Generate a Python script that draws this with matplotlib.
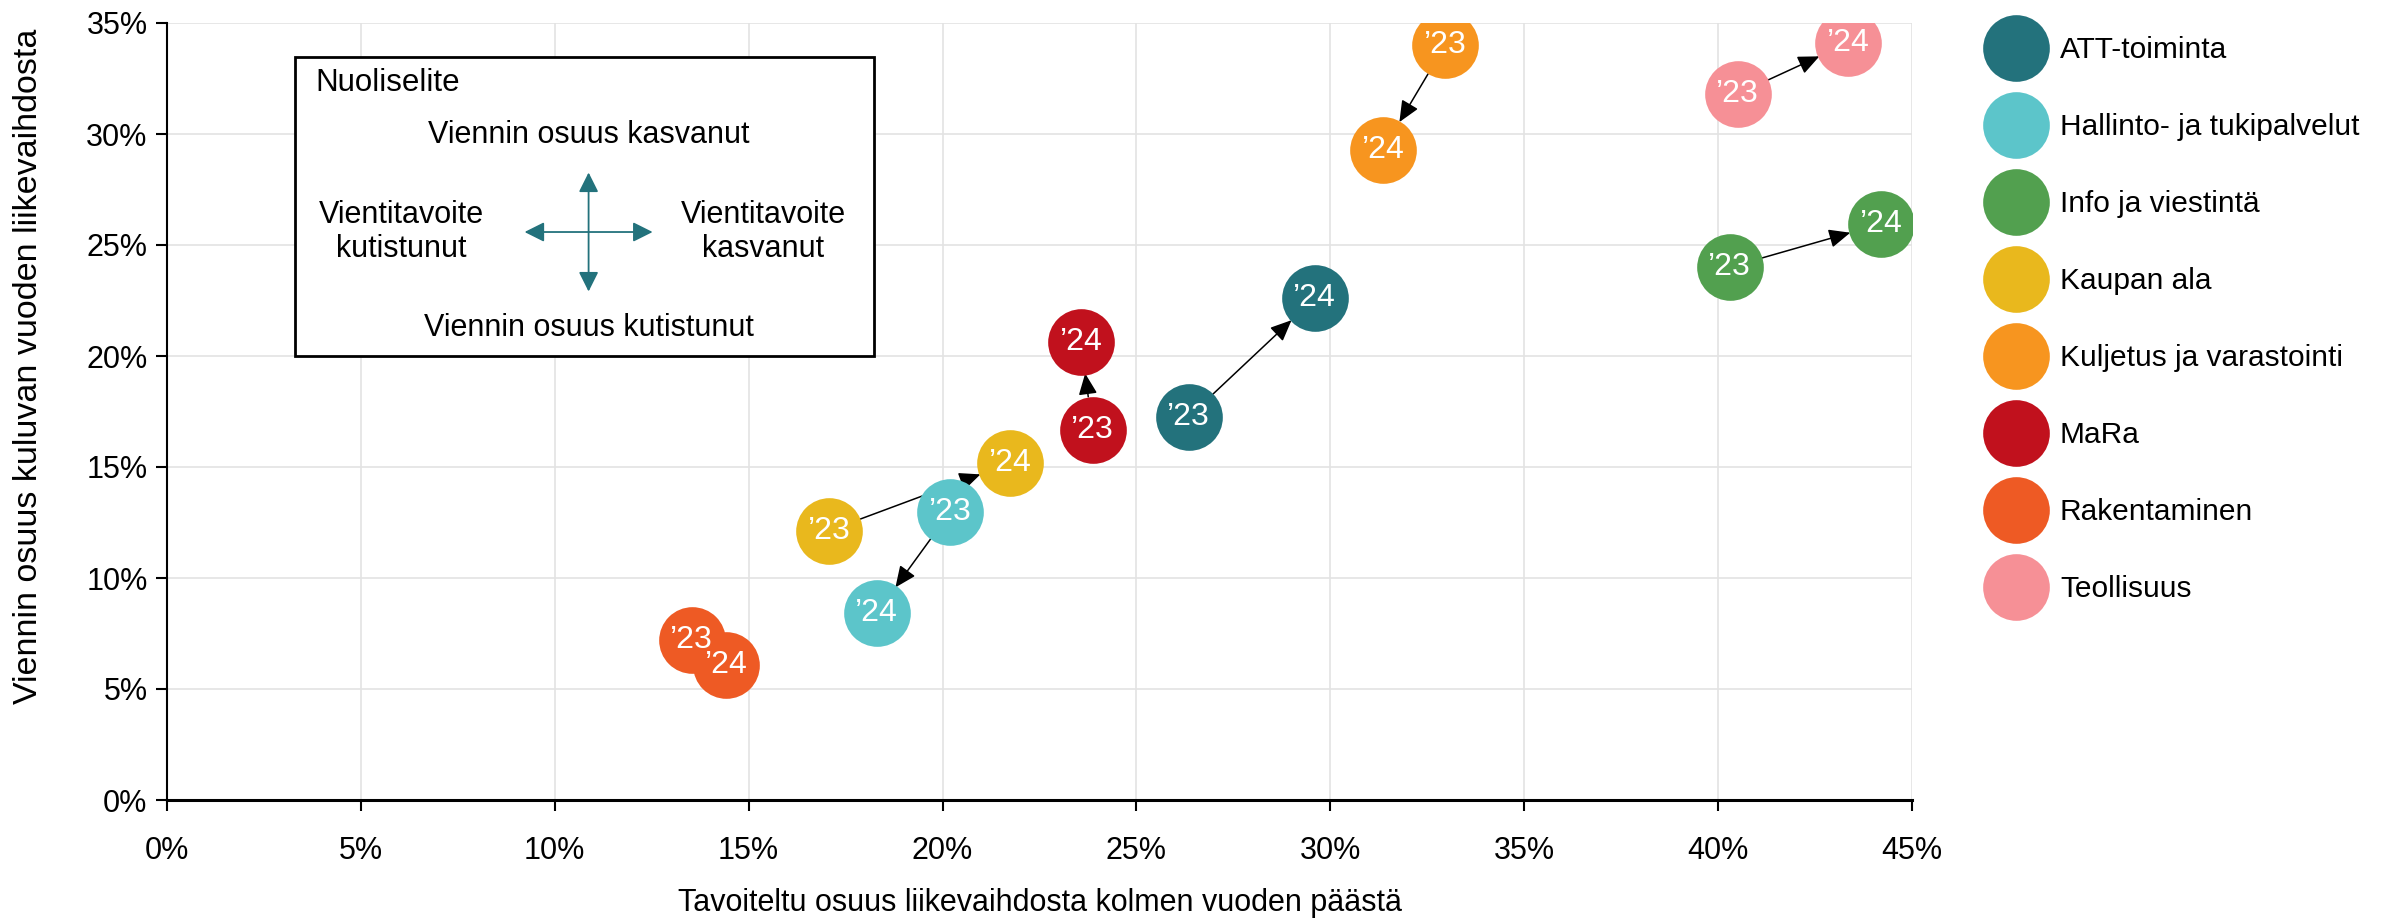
import numpy as np
import matplotlib
matplotlib.use('Agg')
import matplotlib.pyplot as plt
from matplotlib.patches import Rectangle
from matplotlib.ticker import FuncFormatter, MultipleLocator

plt.rcParams['font.family'] = ['Liberation Sans', 'DejaVu Sans']

# data (%)
sectors = ['ATT-toiminta', 'Hallinto- ja tukipalvelut', 'Info ja viestintä', 'Kaupan ala',
           'Kuljetus ja varastointi', 'MaRa', 'Rakentaminen', 'Teollisuus']
colors = ['#23727C', '#5CC5CA', '#52A04F', '#E9B81D', '#F7951F', '#C1111D', '#EE5A24', '#F69096']
target_23 = [26.35, 20.2, 40.3, 17.07, 32.96, 23.87, 13.53, 40.5]
export_23 = [17.26, 12.98, 24.0, 12.13, 34.0, 16.67, 7.21, 31.8]
target_24 = [29.6, 18.3, 44.2, 21.75, 31.36, 23.57, 14.42, 43.36]
export_24 = [22.6, 8.41, 25.95, 15.17, 29.3, 20.64, 6.08, 34.1]
year_labels = ['\u201923', '\u201924']

W, H = 2399, 919
fig = plt.figure(figsize=(W / 100, H / 100), dpi=100)
ax = fig.add_axes([167 / W, 1 - 800 / H, 1745 / W, 777 / H])

ax.set_xlim(0, 45)
ax.set_ylim(0, 35)
ax.xaxis.set_major_locator(MultipleLocator(5))
ax.yaxis.set_major_locator(MultipleLocator(5))
pct = FuncFormatter(lambda v, p: f'{v:.0f}%')
ax.xaxis.set_major_formatter(pct)
ax.yaxis.set_major_formatter(pct)
ax.grid(True, color='#e3e3e3', lw=1.2)
ax.set_axisbelow(True)
for s in ['top', 'right']:
    ax.spines[s].set_visible(False)
ax.spines['left'].set_linewidth(1.5)
ax.spines['bottom'].set_linewidth(2.2)
ax.tick_params(axis='both', labelsize=22, length=8, width=1.5, direction='out')
ax.tick_params(axis='x', pad=18)
ax.tick_params(axis='y', pad=6)

ax.set_xlabel('Tavoiteltu osuus liikevaihdosta kolmen vuoden päästä', fontsize=22, labelpad=16)
ax.set_ylabel('Viennin osuus kuluvan vuoden liikevaihdosta', fontsize=24.5)
ax.yaxis.set_label_coords(-0.0705, 0.558)

msize = 48  # marker diameter in points
r_pt = msize / 2

# arrows 2023 -> 2024
fig.canvas.draw()
for i in range(len(sectors)):
    p0 = ax.transData.transform((target_23[i], export_23[i]))
    p1 = ax.transData.transform((target_24[i], export_24[i]))
    dist_pt = np.hypot(*(p1 - p0)) * 72 / fig.dpi
    if dist_pt > msize + 4:
        ax.annotate('', xy=(target_24[i], export_24[i]), xytext=(target_23[i], export_23[i]),
                    arrowprops=dict(arrowstyle='-|>,head_length=0.5,head_width=0.22',
                                    mutation_scale=26, color='black', lw=1.1,
                                    shrinkA=r_pt, shrinkB=r_pt - 1),
                    zorder=2)

for i in range(len(sectors)):
    ax.scatter([target_23[i]], [export_23[i]], s=msize ** 2, color=colors[i], zorder=3, lw=0)
    ax.scatter([target_24[i]], [export_24[i]], s=msize ** 2, color=colors[i], zorder=3, lw=0)
for i in range(len(sectors)):
    ax.text(target_23[i], export_23[i], year_labels[0], color='white', fontsize=23,
            ha='center', va='center', zorder=4)
    ax.text(target_24[i], export_24[i], year_labels[1], color='white', fontsize=23,
            ha='center', va='center', zorder=4)

# arrow explanation box
ax.add_patch(Rectangle((0.0734, 0.5718), 0.3315, 0.3842, transform=ax.transAxes,
                       fill=True, facecolor='white', edgecolor='black', lw=2, zorder=5))
cx, cy = 0.2416, 0.731
ax.text(0.085, 0.923, 'Nuoliselite', transform=ax.transAxes, fontsize=22.5,
        ha='left', va='center', zorder=6)
ax.text(cx, 0.856, 'Viennin osuus kasvanut', transform=ax.transAxes, fontsize=22,
        ha='center', va='center', zorder=6)
ax.text(cx, 0.607, 'Viennin osuus kutistunut', transform=ax.transAxes, fontsize=22,
        ha='center', va='center', zorder=6)
ax.text(0.1345, cy, 'Vientitavoite\nkutistunut', transform=ax.transAxes, fontsize=22,
        ha='center', va='center', linespacing=1.15, zorder=6)
ax.text(0.3416, cy, 'Vientitavoite\nkasvanut', transform=ax.transAxes, fontsize=22,
        ha='center', va='center', linespacing=1.15, zorder=6)
arrow_col = '#23727C'
aprops = dict(arrowstyle='<|-|>,head_length=0.6,head_width=0.3', mutation_scale=20,
              color=arrow_col, lw=1.3, shrinkA=0, shrinkB=0)
ax.annotate('', xy=(cx - 0.0367, cy), xytext=(cx + 0.0367, cy), xycoords='axes fraction',
            arrowprops=aprops, zorder=6)
ax.annotate('', xy=(cx, cy + 0.0766), xytext=(cx, cy - 0.0766), xycoords='axes fraction',
            arrowprops=aprops, zorder=6)

# legend (drawn in pixel coordinates on an overlay axes)
lax = fig.add_axes([0, 0, 1, 1])
lax.set_xlim(0, W)
lax.set_ylim(H, 0)
lax.axis('off')
for k, (name, c) in enumerate(zip(sectors, colors)):
    yk = 48 + 77 * k
    lax.scatter([2016], [yk], s=msize ** 2, color=c, lw=0)
    lax.text(2060, yk + 2, name, fontsize=21.5, ha='left', va='center')

fig.savefig('out.png', dpi=100)
